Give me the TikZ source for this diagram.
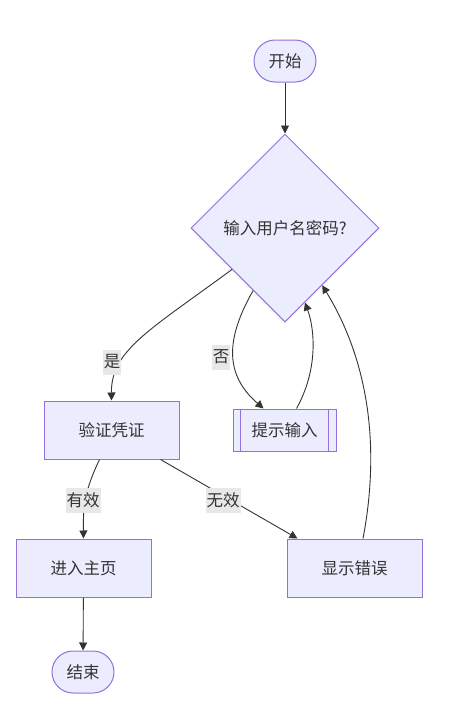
\documentclass[tikz,border=0pt]{standalone}
\usepackage{fontspec}
\setmainfont{Noto Sans CJK SC}
\usetikzlibrary{shapes.geometric,arrows.meta}
\definecolor{nodefill}{HTML}{ECECFF}
\definecolor{nodeline}{HTML}{9370DB}
\definecolor{edgecol}{HTML}{333333}
\definecolor{lblfill}{HTML}{E8E8E8}
\tikzset{
  base/.style={draw=nodeline, fill=nodefill, line width=1pt, text=edgecol,
    font=\fontsize{16.5}{19}\selectfont, inner sep=0pt},
  term/.style={base, rectangle, rounded corners=21pt, minimum width=62pt, minimum height=42pt},
  proc/.style={base, rectangle, minimum width=135pt, minimum height=58pt},
  subr/.style={base, rectangle, minimum width=103pt, minimum height=42pt},
  dec/.style={base, diamond, minimum width=188pt, minimum height=188pt},
  arr/.style={draw=edgecol, line width=0.9pt, -{Triangle[length=8pt,width=8pt]}},
  lbl/.style={fill=lblfill, text=edgecol, font=\fontsize{16.5}{19}\selectfont,
    inner xsep=1pt, inner ysep=0pt, minimum height=25pt}
}
\begin{document}
\begin{tikzpicture}[x=1pt, y=-1pt]
\useasboundingbox (0,0) rectangle (448,726);
\node[term] (s) at (285,61) {开始};
\node[dec] (d) at (285,228) {输入用户名密码?};
\node[proc] (v) at (111.5,430) {验证凭证};
\node[subr] (p) at (284.5,430) {提示输入};
\draw[nodeline, line width=1pt] ([xshift=8pt]p.north west) -- ([xshift=8pt]p.south west);
\draw[nodeline, line width=1pt] ([xshift=-8pt]p.north east) -- ([xshift=-8pt]p.south east);
\node[proc] (h) at (83.5,568) {进入主页};
\node[proc] (e) at (354.5,568) {显示错误};
\node[term] (f) at (83,672) {结束};

\draw[arr] (s) -- (d);
\draw[arr] (d.218) .. controls (150,330) and (111,350) .. (v.north);
\draw[arr] (d.243) .. controls (225,340) and (225,375) .. ([xshift=-21pt]p.north);
\draw[arr] ([xshift=12pt]p.north) .. controls (318,370) and (315,330) .. (d.285);
\draw[arr] ([xshift=8.5pt]e.north) .. controls (378,460) and (374,370) .. (d.303);
\draw[arr] ([xshift=-12pt]v.south) .. controls (85,490) and (83,505) .. (h.north);
\draw[arr] ([xshift=-19pt]v.south east) -- ([xshift=11pt]e.north west);
\draw[arr] (h) -- (f);

\node[lbl] (l1) at (112,362) {是};
\node[lbl] (l2) at (221,357) {否};
\node[lbl] (l3) at (83,500) {有效};
\node[lbl] (l4) at (223,500) {无效};
\end{tikzpicture}
\end{document}
